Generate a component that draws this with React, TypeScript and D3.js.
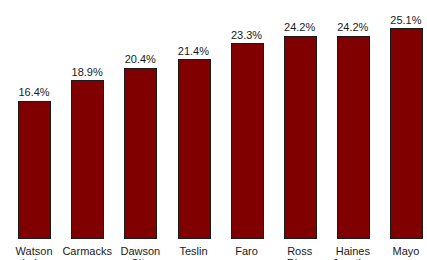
import React, { useRef, useEffect } from 'react';
import * as d3 from 'd3';

const communities = ['Watson Lake', 'Carmacks', 'Dawson City', 'Teslin', 'Faro', 'Ross River', 'Haines Junction', 'Mayo'];
const shares = [16.4, 18.9, 20.4, 21.4, 23.3, 24.2, 24.2, 25.1];
const valueLabels = ['16.4%', '18.9%', '20.4%', '21.4%', '23.3%', '24.2%', '24.2%', '25.1%'];

const width = 427;
const height = 260;

const App = () => {
  const svgRef = useRef<SVGSVGElement>(null);

  useEffect(() => {
    const svg = d3.select(svgRef.current);
    svg.selectAll('*').remove();

    const x = d3.scaleBand<string>()
      .domain(communities)
      .range([7.5, 432.5])
      .paddingInner(0.4)
      .paddingOuter(0.2);

    const y = d3.scaleLinear()
      .domain([0, 28])
      .range([238, 4]);

    const g = svg.append('g');

    // bars
    g.selectAll('.bar')
      .data(shares)
      .enter()
      .append('rect')
      .attr('class', 'bar')
      .attr('x', (d, i) => Math.round(x(communities[i])!) + 0.5)
      .attr('y', d => Math.round(y(d)) + 0.5)
      .attr('width', Math.round(x.bandwidth()))
      .attr('height', d => Math.round(y(0)) - Math.round(y(d)))
      .style('fill', '#800000')
      .style('stroke', '#1a1a1a')
      .style('stroke-width', 1);

    // value labels
    g.selectAll('.val')
      .data(shares)
      .enter()
      .append('text')
      .attr('class', 'val')
      .attr('x', (d, i) => x(communities[i])! + x.bandwidth() / 2)
      .attr('y', d => y(d) - 4.5)
      .attr('text-anchor', 'middle')
      .style('font-family', 'Liberation Sans, Arial, sans-serif')
      .style('font-size', '11px')
      .style('fill', '#1a1a1a')
      .text((d, i) => valueLabels[i]);

    // category labels, wrapped on spaces (second line runs off the bottom, as in the source)
    const cats = g.selectAll('.cat')
      .data(communities)
      .enter()
      .append('text')
      .attr('class', 'cat')
      .attr('text-anchor', 'middle')
      .style('font-family', 'Liberation Sans, Arial, sans-serif')
      .style('font-size', '11px')
      .style('fill', '#1a1a1a');

    cats.each(function(d) {
      const t = d3.select(this);
      const cx = x(d)! + x.bandwidth() / 2;
      d.split(' ').forEach((word, i) => {
        t.append('tspan')
          .attr('x', cx)
          .attr('y', 255 + i * 11.5)
          .text(word);
      });
    });
  }, []);

  return (
    <svg
      ref={svgRef}
      width={width}
      height={height}
      style={{ position: 'absolute', left: 0, top: 0, background: 'white' }}
    ></svg>
  );
};

export default App;
